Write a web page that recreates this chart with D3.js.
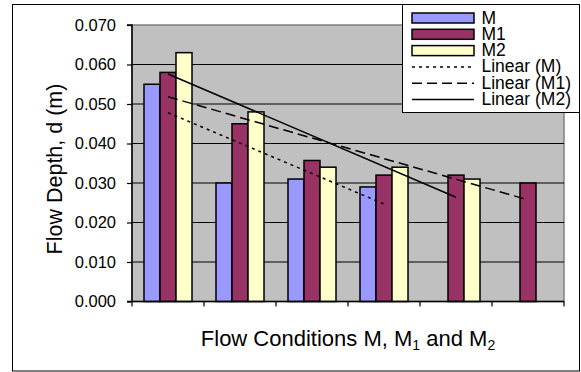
<!DOCTYPE html>
<html>
<head>
<meta charset="utf-8">
<script src="https://cdn.jsdelivr.net/npm/d3@7"></script>
<style>
  html, body { margin: 0; padding: 0; background: #fff; }
  svg { display: block; font-family: "Liberation Sans", Arial, sans-serif; }
</style>
</head>
<body>
<svg id="chart" width="581" height="372"></svg>
<script>
// Flow depth measurements for six flow conditions
const categories = ["1", "2", "3", "4", "5", "6"];
const seriesNames = ["M", "M1", "M2"];
const depthM  = [0.055, 0.030, 0.031, 0.029, null, null];
const depthM1 = [0.058, 0.045, 0.0357, 0.032, 0.032, 0.030];
const depthM2 = [0.063, 0.048, 0.034, 0.034, 0.031, null];
const yTicks = [0, 0.01, 0.02, 0.03, 0.04, 0.05, 0.06, 0.07];
const yTickLabels = ["0.000", "0.010", "0.020", "0.030", "0.040", "0.050", "0.060", "0.070"];
const legendLabels = ["M", "M1", "M2", "Linear (M)", "Linear (M1)", "Linear (M2)"];

const seriesValues = [depthM, depthM1, depthM2];
const colors = ["#9999FF", "#993366", "#FFFFCC"];
const trendDash = ["3,4", "10,5", null];

const svg = d3.select("#chart");
const plot = { left: 132, right: 564, top: 25, bottom: 301.5 };

// Outer chart frame
svg.append("rect")
  .attr("x", 12.5).attr("y", 4.5)
  .attr("width", 567).attr("height", 366.5)
  .attr("fill", "#fff").attr("stroke", "#000").attr("stroke-width", 1);

const x = d3.scaleBand().domain(categories).range([plot.left, plot.right]);
const xInner = d3.scaleBand().domain(seriesNames)
  .range([x.bandwidth() / 6, x.bandwidth() * 5 / 6]);
const y = d3.scaleLinear().domain([0, 0.07]).range([plot.bottom, plot.top]);

// Plot area background
svg.append("rect")
  .attr("x", plot.left).attr("y", plot.top)
  .attr("width", plot.right - plot.left).attr("height", plot.bottom - plot.top)
  .attr("fill", "#C0C0C0").attr("stroke", "#808080").attr("stroke-width", 1.5);

// Horizontal gridlines
svg.append("g")
  .selectAll("line")
  .data(yTicks.filter(t => t > 0 && t < 0.07))
  .join("line")
  .attr("x1", plot.left).attr("x2", plot.right)
  .attr("y1", d => y(d)).attr("y2", d => y(d))
  .attr("stroke", "#000").attr("stroke-width", 1);

// Bars
seriesValues.forEach((vals, si) => {
  svg.append("g")
    .selectAll("rect")
    .data(vals.map((v, i) => ({ v, c: categories[i] })).filter(d => d.v != null))
    .join("rect")
    .attr("x", d => x(d.c) + xInner(seriesNames[si]))
    .attr("width", xInner.bandwidth())
    .attr("y", d => y(d.v))
    .attr("height", d => y(0) - y(d.v))
    .attr("fill", colors[si])
    .attr("stroke", "#000")
    .attr("stroke-width", 1.5);
});

// Least-squares linear trendlines over each series' points
seriesValues.forEach((vals, si) => {
  const pts = vals.map((v, i) => [i + 1, v]).filter(p => p[1] != null);
  const n = pts.length;
  const mx = d3.mean(pts, p => p[0]);
  const my = d3.mean(pts, p => p[1]);
  const slope = d3.sum(pts, p => (p[0] - mx) * (p[1] - my)) / d3.sum(pts, p => (p[0] - mx) ** 2);
  const icpt = my - slope * mx;
  const ends = [pts[0][0], pts[n - 1][0]].map(k => ({ c: categories[k - 1], v: icpt + slope * k }));
  svg.append("line")
    .attr("x1", x(ends[0].c) + x.bandwidth() / 2)
    .attr("y1", y(ends[0].v))
    .attr("x2", x(ends[1].c) + x.bandwidth() / 2)
    .attr("y2", y(ends[1].v))
    .attr("stroke", "#000")
    .attr("stroke-width", 1.5)
    .attr("stroke-dasharray", trendDash[si]);
});

// Y axis
const yAxis = d3.axisLeft(y)
  .tickValues(yTicks)
  .tickFormat((d, i) => yTickLabels[i])
  .tickSize(5).tickPadding(11);
const gy = svg.append("g").attr("transform", `translate(${plot.left},0)`).call(yAxis);
gy.select(".domain").attr("stroke", "#000").attr("stroke-width", 1.5).attr("d", `M-5,${plot.top}H0V${plot.bottom}`);
gy.selectAll(".tick line").attr("stroke", "#000").attr("stroke-width", 1.2);
gy.selectAll(".tick text")
  .attr("font-size", 16.5).attr("fill", "#000")
  .attr("font-family", "'Liberation Sans', Arial, sans-serif");

// X axis (category boundaries marked, no labels)
const gx = svg.append("g").attr("transform", `translate(0,${plot.bottom})`);
gx.append("line")
  .attr("x1", plot.left - 5).attr("x2", plot.right)
  .attr("stroke", "#000").attr("stroke-width", 1.5);
gx.selectAll("line.tk")
  .data(categories.map(c => x(c)).concat([plot.right]))
  .join("line").attr("class", "tk")
  .attr("x1", d => d).attr("x2", d => d)
  .attr("y1", 0).attr("y2", 5)
  .attr("stroke", "#000").attr("stroke-width", 1.2);

// Axis titles
svg.append("text")
  .attr("transform", `translate(62,169) rotate(-90)`)
  .attr("text-anchor", "middle")
  .attr("font-size", 21.5)
  .text("Flow Depth, d (m)");

const xt = svg.append("text")
  .attr("x", (plot.left + plot.right) / 2).attr("y", 346)
  .attr("text-anchor", "middle")
  .attr("font-size", 22);
xt.append("tspan").text("Flow Conditions M, M");
xt.append("tspan").attr("font-size", 14).attr("dy", 4).text("1");
xt.append("tspan").attr("dy", -4).text(" and M");
xt.append("tspan").attr("font-size", 14).attr("dy", 4).text("2");

// Legend
const lg = svg.append("g");
lg.append("rect")
  .attr("x", 402.5).attr("y", 4.5)
  .attr("width", 177).attr("height", 108)
  .attr("fill", "#fff").attr("stroke", "#000").attr("stroke-width", 1);
const rowY = i => 18 + i * 16.3;
legendLabels.forEach((label, i) => {
  if (i < 3) {
    lg.append("rect")
      .attr("x", 412).attr("y", rowY(i) - 5)
      .attr("width", 62).attr("height", 10)
      .attr("fill", colors[i]).attr("stroke", "#000").attr("stroke-width", 1.5);
  } else {
    lg.append("line")
      .attr("x1", 412).attr("x2", 474)
      .attr("y1", rowY(i)).attr("y2", rowY(i))
      .attr("stroke", "#000").attr("stroke-width", 1.5)
      .attr("stroke-dasharray", trendDash[i - 3]);
  }
  lg.append("text")
    .attr("x", 481.5).attr("y", rowY(i) + 5.5)
    .attr("font-size", 17.5)
    .text(label);
});
</script>
</body>
</html>
